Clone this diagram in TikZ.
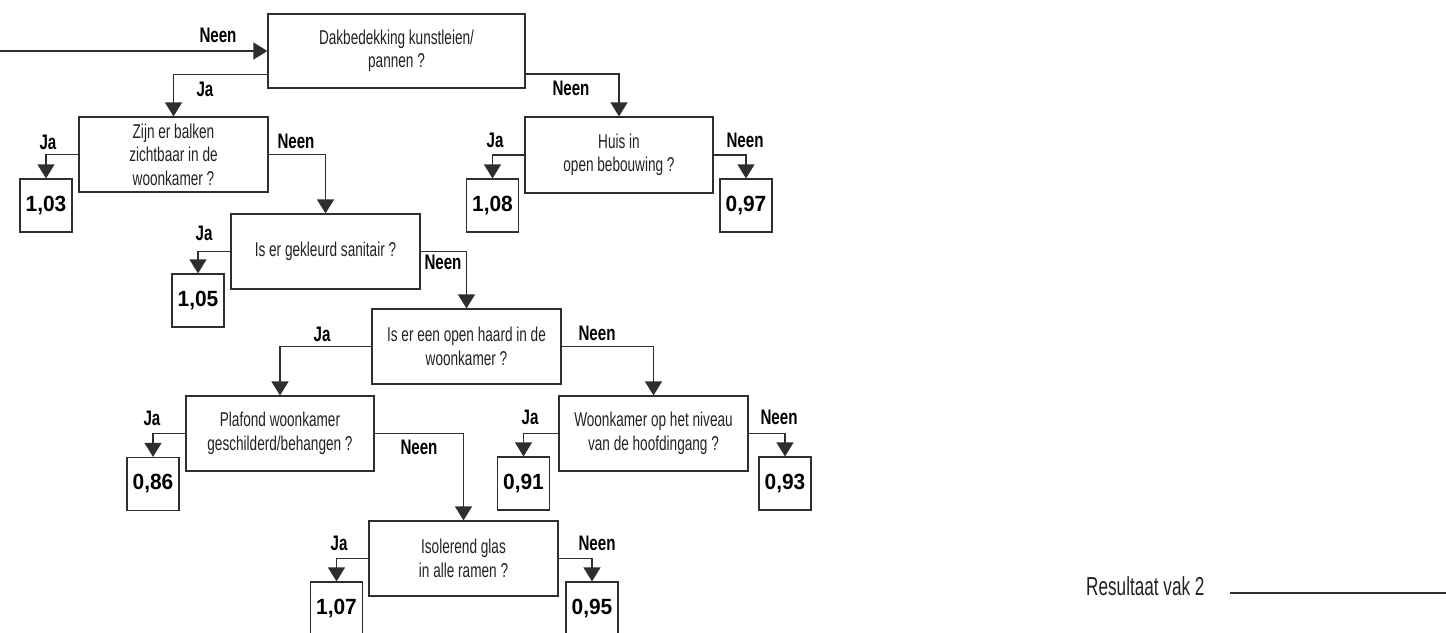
\documentclass[tikz,border=0pt]{standalone}
\usepackage{fontspec}
\usetikzlibrary{arrows.meta}
\newfontfamily\boxfont[FakeStretch=0.68]{Liberation Sans}
\newfontfamily\lblfont[FakeStretch=0.72]{Liberation Sans}
\newfontfamily\numfont[FakeStretch=0.95]{Liberation Sans}
\newfontfamily\resfont[FakeStretch=0.66]{Liberation Sans}
\definecolor{ink}{HTML}{2E2E2E}
\definecolor{txt}{HTML}{222222}
\tikzset{
  qbox/.style={draw=ink, line width=1.2pt, inner sep=0pt, align=center, text=txt,
    font=\boxfont\fontsize{20}{23.5}\selectfont},
  vbox/.style={draw=ink, line width=1.2pt, inner sep=0pt, minimum width=52pt, minimum height=53pt,
    text=black, font=\numfont\bfseries\fontsize{22}{26}\selectfont},
  lbl/.style={inner sep=0pt, text=black, font=\lblfont\bfseries\fontsize{21}{25}\selectfont},
  arr/.style={draw=ink, line width=1.2pt, -{Triangle[length=14pt,width=17pt]}},
  plain/.style={draw=ink, line width=1.2pt}
}
\begin{document}
\begin{tikzpicture}[x=1pt,y=-1pt]
\useasboundingbox (0,0) rectangle (1446,632);
% questions
\node[qbox, minimum width=257pt, minimum height=74pt] (q1) at (396.5,51) {Dakbedekking kunstleien/\\pannen ?};
\node[qbox, minimum width=189pt, minimum height=75pt] (q2) at (173.5,154.5) {Zijn er balken\\zichtbaar in de\\woonkamer ?};
\node[qbox, minimum width=188pt, minimum height=76pt] (q3) at (619,155) {Huis in\\open bebouwing ?};
\node[qbox, minimum width=189pt, minimum height=75pt] (q4) at (325.5,251.5) {Is er gekleurd sanitair ?};
\node[qbox, minimum width=189pt, minimum height=75pt] (q5) at (466.5,346.5) {Is er een open haard in de\\woonkamer ?};
\node[qbox, minimum width=188pt, minimum height=75pt] (q6) at (280,433.5) {Plafond woonkamer\\geschilderd/behangen ?};
\node[qbox, minimum width=189pt, minimum height=75pt] (q7) at (653.5,433.5) {Woonkamer op het niveau\\van de hoofdingang ?};
\node[qbox, minimum width=189pt, minimum height=75pt] (q8) at (463.5,558.5) {Isolerend glas\\in alle ramen ?};
% values
\node[vbox] (v103) at (46,205.5) {1,03};
\node[vbox] (v105) at (198,300.5) {1,05};
\node[vbox] (v108) at (492.5,205.5) {1,08};
\node[vbox] (v097) at (746,205.5) {0,97};
\node[vbox] (v086) at (153,484) {0,86};
\node[vbox] (v091) at (523.5,483.5) {0,91};
\node[vbox] (v093) at (785,483.5) {0,93};
\node[vbox] (v107) at (336.5,608.5) {1,07};
\node[vbox] (v095) at (592,608.5) {0,95};
% connectors
\coordinate (start) at (0,51);
\draw[arr] (start) -- (q1);
\draw[arr] ([yshift=-23.5pt]q1.west) -| (q2.north);
\draw[arr] ([yshift=-23pt]q1.east) -| (q3.north);
\draw[arr] (q2.west) -| (v103.north);
\draw[arr] (q2.east) -| (q4.north);
\draw[arr] (q3.west) -| (v108.north);
\draw[arr] (q3.east) -| (v097.north);
\draw[arr] (q4.west) -| (v105.north);
\draw[arr] (q4.east) -| (q5.north);
\draw[arr] (q5.west) -| (q6.north);
\draw[arr] (q5.east) -| (q7.north);
\draw[arr] (q6.west) -| (v086.north);
\draw[arr] (q6.east) -| (q8.north);
\draw[arr] (q7.west) -| (v091.north);
\draw[arr] (q7.east) -| (v093.north);
\draw[arr] (q8.west) -| (v107.north);
\draw[arr] (q8.east) -| (v095.north);
% labels
\node[lbl] (l0) at (218,35) {Neen};
\node[lbl] (l1a) at (205,89) {Ja};
\node[lbl] (l1b) at (571,88) {Neen};
\node[lbl] (l2a) at (48,142) {Ja};
\node[lbl] (l2b) at (296,141) {Neen};
\node[lbl] (l3a) at (495,140) {Ja};
\node[lbl] (l3b) at (745,140) {Neen};
\node[lbl] (l4a) at (204,233) {Ja};
\node[lbl] (l4b) at (443,262) {Neen};
\node[lbl] (l5a) at (322,334) {Ja};
\node[lbl] (l5b) at (597,333) {Neen};
\node[lbl] (l6a) at (152,418) {Ja};
\node[lbl] (l6b) at (419,447) {Neen};
\node[lbl] (l7a) at (530,417) {Ja};
\node[lbl] (l7b) at (779,417) {Neen};
\node[lbl] (l8a) at (339,543) {Ja};
\node[lbl] (l8b) at (597,543) {Neen};
% result
\node[inner sep=0pt, text=txt, font=\resfont\fontsize{26}{30}\selectfont, anchor=base west] (res) at (1086,595) {Resultaat vak 2};
\coordinate (r0) at (1230,593);
\coordinate (r1) at (1446,593);
\draw[plain] (r0) -- (r1);
\end{tikzpicture}
\end{document}
